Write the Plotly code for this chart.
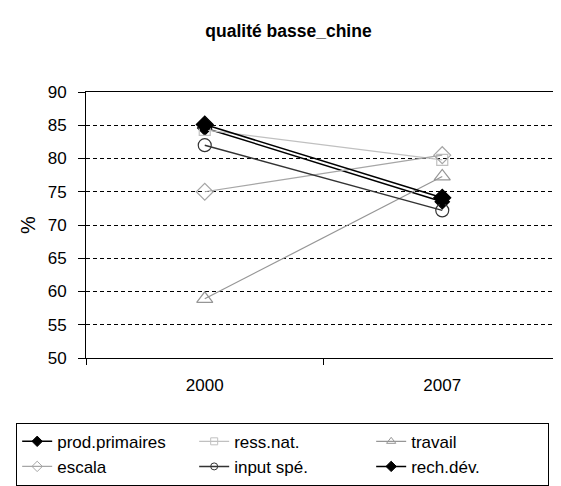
import plotly.graph_objects as go

categories = ["2000", "2007"]
prod_primaires = [84.6, 73.5]
ress_nat = [84.3, 79.8]
travail = [58.9, 77.3]
escala = [75.0, 80.5]
input_spe = [82.0, 72.2]
rech_dev = [85.1, 74.1]

xpos = list(range(len(categories)))

# name, values, line colour, symbol, marker colour, plot marker size, legend marker size, line width
series = [
    ("prod.primaires", prod_primaires, "#000000", "diamond", "#000000", 11, 8, 1.5),
    ("ress.nat.", ress_nat, "#c0c0c0", "square-open", "#c0c0c0", 11, 7, 1.2),
    ("travail", travail, "#969696", "triangle-up-open", "#969696", 14, 8, 1.2),
    ("escala", escala, "#a6a6a6", "diamond-open", "#a6a6a6", 13, 8, 1.2),
    ("input spé.", input_spe, "#333333", "circle-open", "#333333", 13, 7, 1.5),
    ("rech.dév.", rech_dev, "#000000", "diamond", "#000000", 13, 8, 1.5),
]

fig = go.Figure()
for name, vals, lc, sym, mc, ms, lms, lw in series:
    fig.add_trace(go.Scatter(
        x=xpos, y=vals, name=name, mode="lines+markers", showlegend=False,
        line=dict(color=lc, width=lw),
        marker=dict(symbol=sym, size=ms, color=mc, line=dict(color=mc, width=1.2)),
    ))
for name, vals, lc, sym, mc, ms, lms, lw in series:
    fig.add_trace(go.Scatter(
        x=[None], y=[None], name=name, mode="lines+markers", showlegend=True,
        line=dict(color=lc, width=lw),
        marker=dict(symbol=sym, size=lms, color=mc, line=dict(color=mc, width=1)),
    ))

FONT = "Liberation Sans, Arial, sans-serif"
fig.update_layout(
    width=561, height=486,
    margin=dict(l=77, r=8, t=84, b=131),
    paper_bgcolor="white", plot_bgcolor="white",
    font=dict(family=FONT, size=17, color="black"),
    title=dict(text="<b>qualité basse_chine</b>", x=0.5, xanchor="center",
               xref="container", y=1 - 23 / 486, yanchor="middle", font=dict(size=17.5)),
    showlegend=True,
    legend=dict(
        orientation="h", x=-0.147, xanchor="left", y=-0.2435, yanchor="top",
        bordercolor="black", borderwidth=1, bgcolor="white",
        entrywidth=132, entrywidthmode="pixels", itemsizing="trace",
        font=dict(size=17), tracegroupgap=0, traceorder="normal",
    ),
    xaxis=dict(
        range=[-0.5, 1.5], tickvals=xpos, ticktext=categories,
        showgrid=False, zeroline=False, ticks="", ticklabelstandoff=12,
        showline=True, linecolor="black", linewidth=1, mirror=True,
        minor=dict(tick0=0.5, dtick=1, ticks="outside", ticklen=6, tickcolor="black"),
        automargin=False,
    ),
    yaxis=dict(
        range=[50, 90], dtick=5, tick0=50,
        showgrid=True, gridcolor="black", gridwidth=1.3, griddash="4px,3px",
        zeroline=False, ticks="outside", ticklen=7, tickcolor="black",
        ticklabelstandoff=8,
        showline=True, linecolor="black", linewidth=1, mirror=True,
        title=dict(text="%", standoff=6),
        automargin=False,
    ),
)

fig.write_html("out.html")
